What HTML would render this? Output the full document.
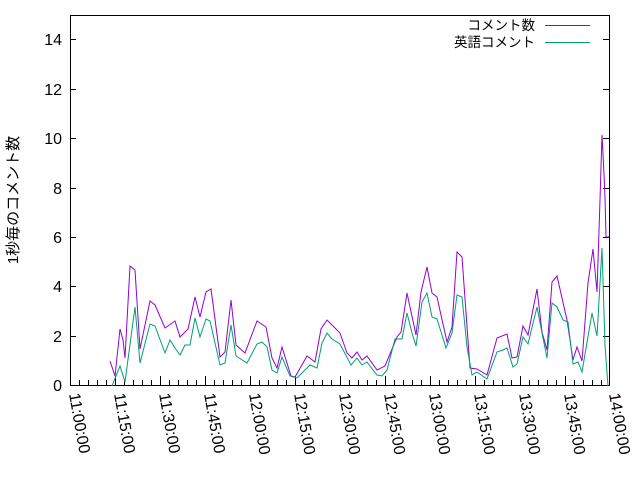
<!DOCTYPE html>
<html><head><meta charset="utf-8"><style>
html,body{margin:0;padding:0;background:#fff;width:640px;height:480px;overflow:hidden}
text{font-family:"Liberation Sans","Noto Sans CJK JP",sans-serif;font-size:16px;fill:#000}
</style></head><body>
<svg width="640" height="480" viewBox="0 0 640 480">
<rect x="70.5" y="15.5" width="539" height="370" fill="none" stroke="#000" stroke-width="1"/>
<g stroke="#000" stroke-width="1" id="yt">
<path d="M70 385.5h6M70 336.5h6M70 286.5h6M70 237.5h6M70 188.5h6M70 138.5h6M70 89.5h6M70 39.5h6"/>
<path d="M609 336.5h-6M609 286.5h-6M609 237.5h-6M609 188.5h-6M609 138.5h-6M609 89.5h-6M609 39.5h-6"/>
</g>
<g text-anchor="end">
<text x="62" y="391">0</text><text x="62" y="342">2</text><text x="62" y="292">4</text><text x="62" y="243">6</text>
<text x="62" y="194">8</text><text x="62" y="144">10</text><text x="62" y="95">12</text><text x="62" y="45">14</text>
</g>
<g stroke="#000" id="xt"></g>
<g id="xl"></g>
<text transform="translate(18,200) rotate(-90)" text-anchor="middle" style="font-size:15px">1秒毎のコメント数</text>
<text x="535" y="30" text-anchor="end" style="font-size:13.5px">コメント数</text>
<text x="535" y="47" text-anchor="end" style="font-size:13.5px">英語コメント</text>
<path d="M545 25.5h45" stroke="#9400d3"/>
<path d="M545 42.5h45" stroke="#009e73"/>
<polyline fill="none" stroke="#9400d3" stroke-width="1" points="110,361 115,376 120,329 123,340 125,358 130,266 135,270 140,349 150,301 155,305 165,328 175,321 180,337 188,329 195,297 200,317 206,292 211,289 220,357 225,352 231,300 236,345 245,353 257,321 266,327 272,358 277,368 282,347 291,376 295,377 307,356 315,362 321,329 327,320 340,333 347,353 352,358 357,352 362,360 367,356 377,370 385,366 397,337 401,332 407,293 416,335 421,292 427,267 432,293 437,297 447,342 452,327 457,252 462,257 470,368 477,369 487,375 497,338 507,334 512,358 517,357 523,326 528,335 537,289 542,332 547,350 552,282 557,276 567,320 573,360 577,347 582,361 588,283 593,249 597,292 600,200 602,135 603,153 605,197 606,237 609,237"/>
<polyline fill="none" stroke="#009e73" stroke-width="1" points="112,386 120,366 125,382 135,307 140,363 150,324 155,326 165,353 170,340 175,348 180,355 185,345 190,345 195,318 200,337 206,319 210,321 220,365 225,363 231,325 236,356 247,363 257,344 262,342 267,347 272,370 277,373 282,357 290,376 297,378 310,365 317,368 322,343 327,333 332,339 340,344 351,365 357,358 362,365 367,362 377,375 382,376 387,370 395,339 402,339 407,313 412,333 416,346 422,302 427,293 432,317 437,319 446,348 452,333 457,295 462,297 467,347 472,375 477,372 487,379 497,352 503,350 507,348 513,367 517,364 523,337 528,344 537,307 542,333 547,358 552,303 557,307 563,320 568,322 573,364 578,362 582,372 592,313 597,336 602,248 605,345 608,386"/>
</svg>
<script>
var ns="http://www.w3.org/2000/svg",xt=document.getElementById("xt"),xl=document.getElementById("xl");
var d="";
for(var i=0;i<=60;i++){var x=70+i*9;if(x>609)break;var L=(i%5==0)?9:5;d+="M"+(x+.5)+" 385v-"+L;}
var p=document.createElementNS(ns,"path");p.setAttribute("d",d);p.setAttribute("stroke","#000");xt.appendChild(p);
var labs=["11:00:00","11:15:00","11:30:00","11:45:00","12:00:00","12:15:00","12:30:00","12:45:00","13:00:00","13:15:00","13:30:00","13:45:00","14:00:00"];
for(var j=0;j<labs.length;j++){var x=70+j*45;var t=document.createElementNS(ns,"text");
t.setAttribute("transform","translate("+(x-1)+",394) rotate(80)");t.textContent=labs[j];xl.appendChild(t);}
</script>
</body></html>
